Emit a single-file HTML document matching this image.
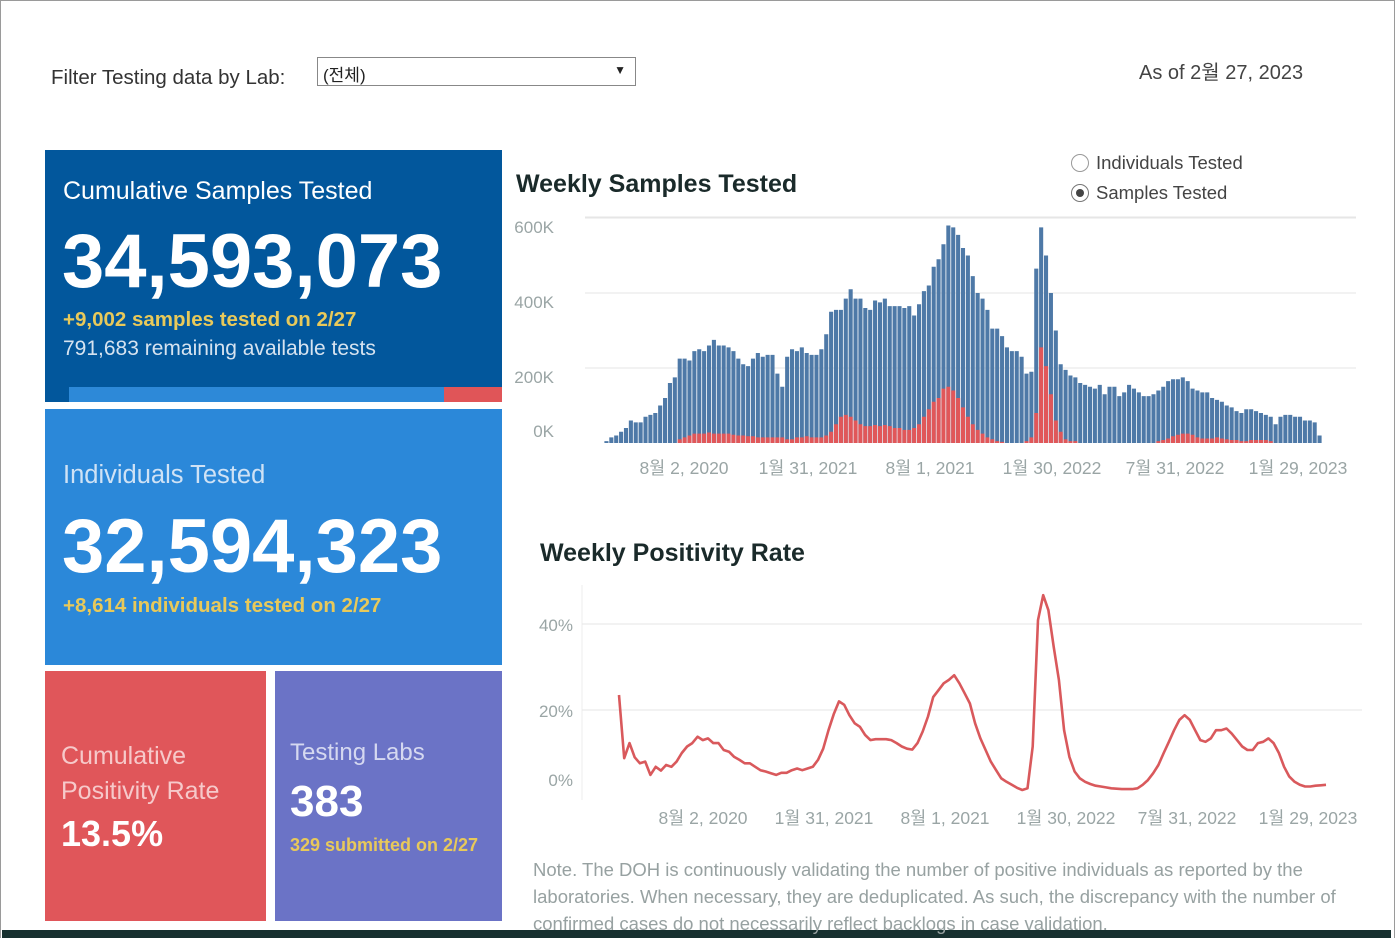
<!DOCTYPE html>
<html><head><meta charset="utf-8">
<style>
*{margin:0;padding:0;box-sizing:border-box}
body{width:1395px;height:938px;overflow:hidden;background:#fff;font-family:"Liberation Sans","Noto Sans CJK KR",sans-serif;position:relative}
.abs{position:absolute}
.panel{position:absolute;color:#fff}
</style></head>
<body>
<div class="abs" style="left:0;top:0;width:1395px;height:938px;border:1px solid #9a9a9a;border-bottom:none"></div>
<div class="abs" style="left:2px;top:930px;width:1389px;height:8px;background:#17302f"></div>

<div class="abs" style="left:51px;top:66px;font-size:20.5px;color:#333">Filter Testing data by Lab:</div>
<div class="abs" style="left:317px;top:57px;width:319px;height:29px;border:1px solid #888;font-size:17px;color:#222;padding:3px 5px">(전체)<span style="position:absolute;right:9px;top:5px;font-size:12px">▼</span></div>
<div class="abs" style="left:1139px;top:56px;font-size:20px;color:#444">As of 2월 27, 2023</div>

<div class="panel" style="left:45px;top:150px;width:457px;height:252px;background:#02579c">
  <div class="abs" style="left:18px;top:27px;font-size:25px">Cumulative Samples Tested</div>
  <div class="abs" style="left:17px;top:68px;font-size:76px;font-weight:bold">34,593,073</div>
  <div class="abs" style="left:18px;top:158px;font-size:20.5px;font-weight:bold;color:#e8c95a">+9,002 samples tested on 2/27</div>
  <div class="abs" style="left:18px;top:187px;font-size:21px;color:#d6e3f0">791,683 remaining available tests</div>
  <div class="abs" style="left:24px;top:237px;width:375px;height:15px;background:#2d89d8"></div>
  <div class="abs" style="left:399px;top:237px;width:58px;height:15px;background:#e05558"></div>
</div>

<div class="panel" style="left:45px;top:409px;width:457px;height:256px;background:#2b88d9">
  <div class="abs" style="left:18px;top:52px;font-size:25.5px;color:#cfe2f5">Individuals Tested</div>
  <div class="abs" style="left:17px;top:94px;font-size:76px;font-weight:bold">32,594,323</div>
  <div class="abs" style="left:18px;top:185px;font-size:20.5px;font-weight:bold;color:#e8c95a">+8,614 individuals tested on 2/27</div>
</div>

<div class="panel" style="left:45px;top:671px;width:221px;height:250px;background:#e0565a">
  <div class="abs" style="left:16px;top:68px;font-size:25px;line-height:35px;color:#f6c9ca">Cumulative<br>Positivity Rate</div>
  <div class="abs" style="left:16px;top:142px;font-size:36px;font-weight:bold">13.5%</div>
</div>

<div class="panel" style="left:275px;top:671px;width:227px;height:250px;background:#6b73c6">
  <div class="abs" style="left:15px;top:68px;font-size:24px;color:#d5d8f0">Testing Labs</div>
  <div class="abs" style="left:15px;top:106px;font-size:44px;font-weight:bold">383</div>
  <div class="abs" style="left:15px;top:164px;font-size:18px;font-weight:bold;color:#e8c95a">329 submitted on 2/27</div>
</div>

<div class="abs" style="left:516px;top:170px;font-size:25px;font-weight:bold;color:#1a2a2a">Weekly Samples Tested</div>
<div class="abs" style="left:1071px;top:152px;font-size:18.5px;color:#444"><span style="display:inline-block;width:18px;height:18px;border:1px solid #999;border-radius:50%;vertical-align:-3px;margin-right:7px"></span>Individuals Tested</div>
<div class="abs" style="left:1071px;top:182px;font-size:18.5px;color:#444"><span style="display:inline-block;width:18px;height:18px;border:1px solid #777;border-radius:50%;vertical-align:-3px;margin-right:7px;position:relative"><span style="position:absolute;left:4px;top:4px;width:8px;height:8px;border-radius:50%;background:#444"></span></span>Samples Tested</div>

<div class="abs" style="left:540px;top:539px;font-size:25px;font-weight:bold;color:#1a2a2a">Weekly Positivity Rate</div>

<div class="abs" style="left:533px;top:856px;width:840px;font-size:18.5px;line-height:27px;color:#97a1a1">Note. The DOH is continuously validating the number of positive individuals as reported by the laboratories. When necessary, they are deduplicated. As such, the discrepancy with the number of confirmed cases do not necessarily reflect backlogs in case validation.</div>

<svg class="abs" style="left:0;top:0" width="1395" height="938" id="svg"></svg>

<script>
const samples=[5,15,20,30,40,60,55,55,70,75,80,100,120,160,175,225,225,220,245,250,245,260,275,260,260,255,245,225,210,205,225,240,230,235,235,185,150,230,250,245,255,240,235,235,250,290,350,355,355,385,410,385,385,360,355,380,375,385,365,365,365,360,365,340,370,405,420,470,490,530,580,575,555,520,
500,445,400,385,355,305,305,285,255,245,245,230,185,190,465,575,500,400,300,210,195,180,175,160,155,150,145,155,130,150,150,125,135,155,145,135,125,125,130,140,150,165,170,170,175,165,145,140,135,135,120,115,110,100,95,85,80,90,90,85,80,75,70,50,70,75,75,70,70,60,60,55,20];
const positives=[0,0,0,0,0,0,0,0,0,0,0,0,0,0,0,10,15,20,25,25,25,28,25,25,25,25,22,20,20,18,18,15,15,15,15,15,15,10,10,15,15,18,15,15,15,20,30,50,70,75,70,60,50,45,45,48,45,48,45,40,40,35,35,40,50,70,90,110,120,145,150,140,120,95,
70,50,35,25,15,10,5,3,0,0,0,0,5,15,80,255,205,130,60,30,10,5,5,0,0,0,0,0,0,0,0,0,0,0,0,0,0,0,0,5,8,12,18,22,25,25,22,15,12,12,12,15,12,10,8,8,5,5,8,8,8,8,5,0,0,0,0,0,0,0,0,0,0];
const sampleTicks=["0K","200K","400K","600K"];
const sampleTickVals=[0,200,400,600];
const dateLabels=["8월 2, 2020","1월 31, 2021","8월 1, 2021","1월 30, 2022","7월 31, 2022","1월 29, 2023"];
const positivity=[23.5,8.8,12.3,9.0,7.6,8.0,4.9,6.8,5.9,7.2,6.8,8.0,10.0,11.5,12.3,13.8,13.0,13.4,12.3,12.3,10.7,10.3,9.1,8.4,7.6,7.6,6.8,6.0,5.7,5.3,4.9,5.4,5.4,6.0,6.4,6.0,6.4,6.8,8.4,11.0,15.3,19.0,22.0,21.2,18.8,16.9,16.1,14.2,13.0,13.2,13.2,13.2,13.0,12.3,11.5,11.0,10.8,12.3,15.0,18.5,23.0,24.6,26.2,27.0,28.1,26.2,23.9,21.5,16.9,13.4,10.7,8.0,6.0,4.1,3.3,2.6,1.9,1.4,1.8,11.5,40.9,46.7,43.2,34.7,27.0,15.3,9.1,5.7,4.1,3.3,2.8,2.4,2.2,2.0,1.8,1.7,1.6,1.6,1.6,1.8,2.6,3.7,5.3,7.2,10.0,12.6,15.3,17.7,18.8,17.7,15.3,13.0,12.6,13.4,15.3,15.3,15.7,14.5,13.0,11.5,10.7,10.7,12.3,12.6,13.4,12.3,10.0,6.8,4.5,3.3,2.6,2.2,2.2,2.4,2.5,2.6];
const posTicks=["0%","20%","40%"];
const posTickVals=[0,20,40];

const NS="http://www.w3.org/2000/svg";
const svg=document.getElementById('svg');
function mk(tag,attrs){const e=document.createElementNS(NS,tag);for(const k in attrs)e.setAttribute(k,attrs[k]);svg.appendChild(e);return e;}

const bx0=604,bx1=1322,by0=443,byTop=218;
const ys=v=>by0-(v/600)*(by0-byTop);
const bw=(bx1-bx0)/samples.length;
const xb=i=>bx0+i*bw;
mk('line',{x1:585,x2:1356,y1:217,y2:217,stroke:'#e6e6e6','stroke-width':1});
sampleTickVals.forEach((v,i)=>{
  if(v>0){const g=mk('line',{x1:585,x2:1356,y1:ys(v),y2:ys(v),stroke:'#e6e6e6','stroke-width':1});
  
  }
  const t=mk('text',{x:554,y:(v===0?437:ys(v)+15),'text-anchor':'end','font-size':17,fill:'#9aa5a5','font-family':'Liberation Sans, sans-serif'});
  t.textContent=sampleTicks[i];
  
  
});
samples.forEach((v,i)=>{
  const r=mk('rect',{x:xb(i)+0.4,y:ys(v),width:bw-0.8,height:by0-ys(v),fill:'#4e79a7'});
  
  
  const p=positives[i];
  if(p>0){const q=mk('rect',{x:xb(i)+0.4,y:ys(p),width:bw-0.8,height:by0-ys(p),fill:'#e15759'});
  
  }
});
const bCenters=[684,808,930,1052,1175,1298];
dateLabels.forEach((d,i)=>{
  const t=mk('text',{x:bCenters[i],y:474,'text-anchor':'middle','font-size':17.5,fill:'#9aa5a5','font-family':'Liberation Sans, Noto Sans CJK KR, sans-serif'});
  t.textContent=d;
  
  
});

const lx0=619,lx1=1326,ly0=796;
const yp=v=>ly0-v*4.3;
const xl=i=>lx0+i*(lx1-lx0)/(positivity.length-1);
mk('line',{x1:582,x2:582,y1:585,y2:800,stroke:'#eeeeee','stroke-width':1});
posTickVals.forEach((v,i)=>{
  if(v>0){const g=mk('line',{x1:582,x2:1362,y1:yp(v),y2:yp(v),stroke:'#e6e6e6','stroke-width':1});
  
  }
  const t=mk('text',{x:573,y:(v===0?786:yp(v)+7),'text-anchor':'end','font-size':17,fill:'#9aa5a5','font-family':'Liberation Sans, sans-serif'});
  t.textContent=posTicks[i];
  
  
});
const pts=positivity.map((v,i)=>xl(i).toFixed(1)+','+yp(v).toFixed(1)).join(' ');
const pl=mk('polyline',{points:pts,fill:'none',stroke:'#d9595c','stroke-width':2.6,'stroke-linejoin':'round'});


const lCenters=[703,824,945,1066,1187,1308];
dateLabels.forEach((d,i)=>{
  const t=mk('text',{x:lCenters[i],y:824,'text-anchor':'middle','font-size':17.5,fill:'#9aa5a5','font-family':'Liberation Sans, Noto Sans CJK KR, sans-serif'});
  t.textContent=d;
  
  
});
</script>
</body></html>
